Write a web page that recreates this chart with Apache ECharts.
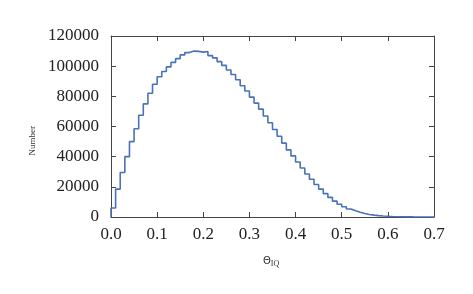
<!DOCTYPE html>
<html>
<head>
<meta charset="utf-8">
<script src="https://cdn.jsdelivr.net/npm/echarts@6/dist/echarts.min.js"></script>
<style>
  html, body { margin: 0; padding: 0; background: #fff; }
</style>
</head>
<body>
<div id="chart" style="width: 473px; height: 294px;"></div>
<script>
// histogram of Theta_IQ, bin width 0.01, left edges from 0.00
const binWidth = 0.01;
const counts = [
  6000, 18500, 29500, 40000, 50000, 58500, 67500, 75000, 82000, 88000,
  93000, 96500, 99500, 102500, 105000, 107500, 109000, 110000, 109800, 109300,
  109700, 107000, 105500, 103000, 100500, 97500, 94500, 91000, 87000, 83500,
  79500, 75500, 71500, 67000, 62500, 58000, 53500, 49000, 44500, 40500,
  36500, 32500, 28500, 25000, 21500, 18500, 15500, 13000, 10500, 8500,
  6800, 5300, 4100, 3100, 2300, 1700, 1250, 900, 650, 450,
  300, 200, 130, 90, 60, 40, 25, 15, 8, 4
];
const xTicks = [0, 0.1, 0.2, 0.3, 0.4, 0.5, 0.6, 0.7];
const yTicks = [0, 20000, 40000, 60000, 80000, 100000, 120000];

// step outline: start on the baseline, one point per bin edge
const points = [[0, 0]];
counts.forEach(function (c, i) {
  points.push([+(i * binWidth).toFixed(2), c]);
});
points.push([xTicks[xTicks.length - 1], counts[counts.length - 1]]);

const font = "'Liberation Serif', 'DejaVu Serif', serif";
const axisCol = "#444";

function axisBase(pos, isX, showLabel) {
  return {
    type: "value",
    position: pos,
    min: isX ? xTicks[0] : yTicks[0],
    max: isX ? xTicks[xTicks.length - 1] : yTicks[yTicks.length - 1],
    interval: isX ? 0.1 : 20000,
    axisLine: { show: true, onZero: false, lineStyle: { color: axisCol, width: 1 } },
    axisTick: { show: true, inside: true, length: 5, lineStyle: { color: axisCol } },
    splitLine: { show: false },
    axisLabel: {
      show: showLabel,
      color: "#222",
      fontFamily: font,
      fontSize: 17,
      margin: isX ? 9 : 12,
      formatter: isX ? function (v) { return v.toFixed(1); } : function (v) { return String(v); },
    },
  };
}

const chart = echarts.init(document.getElementById("chart"));
const option = {
  animation: false,
  backgroundColor: "#fff",
  grid: { left: 111, right: 39, top: 36, bottom: 77, containLabel: false },
  xAxis: [axisBase("bottom", true, true), axisBase("top", true, false)],
  yAxis: [axisBase("left", false, true), axisBase("right", false, false)],
  graphic: [
    {
      type: "text",
      left: 28,
      top: 126,
      rotation: Math.PI / 2,
      style: { text: "Number", font: "9px " + font, fill: "#333", align: "center", verticalAlign: "middle" },
    },
    {
      type: "text",
      left: 263,
      top: 256,
      style: {
        text: "{t|Θ}{s|IQ}",
        rich: {
          t: { fontFamily: "'DejaVu Sans', sans-serif", fontSize: 10, fill: "#333" },
          s: { fontFamily: font, fontSize: 8, fill: "#333", padding: [5, 0, 0, 0] },
        },
      },
    },
  ],
  series: [
    {
      type: "line",
      step: "end",
      xAxisIndex: 0,
      yAxisIndex: 0,
      symbol: "none",
      lineStyle: { color: "#4a72b8", width: 1.6 },
      data: points,
    },
  ],
};
chart.setOption(option);
</script>
</body>
</html>
